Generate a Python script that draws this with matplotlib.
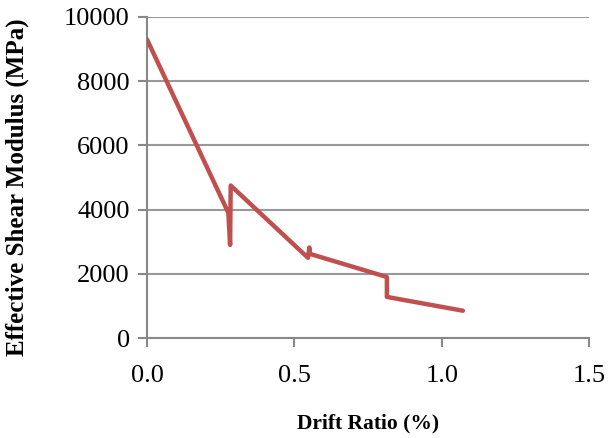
import numpy as np
import matplotlib.pyplot as plt

# drift ratio (%) vs effective shear modulus (MPa)
drift = [0.0, 0.276, 0.282, 0.284, 0.546, 0.551, 0.553, 0.814, 0.814, 1.072]
modulus = [9300, 3900, 2900, 4750, 2500, 2820, 2620, 1900, 1280, 850]

x_ticks = [0.0, 0.5, 1.0, 1.5]
y_ticks = [0, 2000, 4000, 6000, 8000, 10000]

plt.rcParams['font.family'] = ['Liberation Serif', 'DejaVu Serif']

fig = plt.figure(figsize=(6.08, 4.38), dpi=100)
ax = fig.add_axes([0.2418, 0.2283, 0.7270, 0.7329])

ax.plot(drift, modulus, color='#C0504D', linewidth=3.2, solid_joinstyle='round',
        solid_capstyle='round', zorder=3)

ax.set_xlim(0, 1.5)
ax.set_ylim(0, 10000)
ax.set_xticks(x_ticks)
ax.set_xticklabels(['%.1f' % v for v in x_ticks])
ax.set_yticks(y_ticks)
ax.set_yticklabels([str(v) for v in y_ticks])

ax.grid(axis='y', color='#999999', linewidth=1.5)
ax.set_axisbelow(True)
for s in ['top', 'right']:
    ax.spines[s].set_visible(False)
for s in ['left', 'bottom']:
    ax.spines[s].set_color('#888888')
    ax.spines[s].set_linewidth(1.5)

ax.tick_params(axis='both', colors='#888888', width=1.5, length=6.5,
               labelsize=19, labelcolor='black', direction='out')
ax.tick_params(axis='x', pad=13)
ax.tick_params(axis='y', pad=6)

ax.set_xlabel('Drift Ratio (%)', fontsize=15.5, fontweight='bold')
ax.set_ylabel('Effective Shear Modulus (MPa)', fontsize=18, fontweight='bold')
ax.xaxis.set_label_coords(0.5, -0.266)
ax.xaxis.label.set_va('center')
ax.yaxis.set_label_coords(-0.294, 0.47)
ax.yaxis.label.set_va('center')

fig.savefig('out.png', dpi=100)
